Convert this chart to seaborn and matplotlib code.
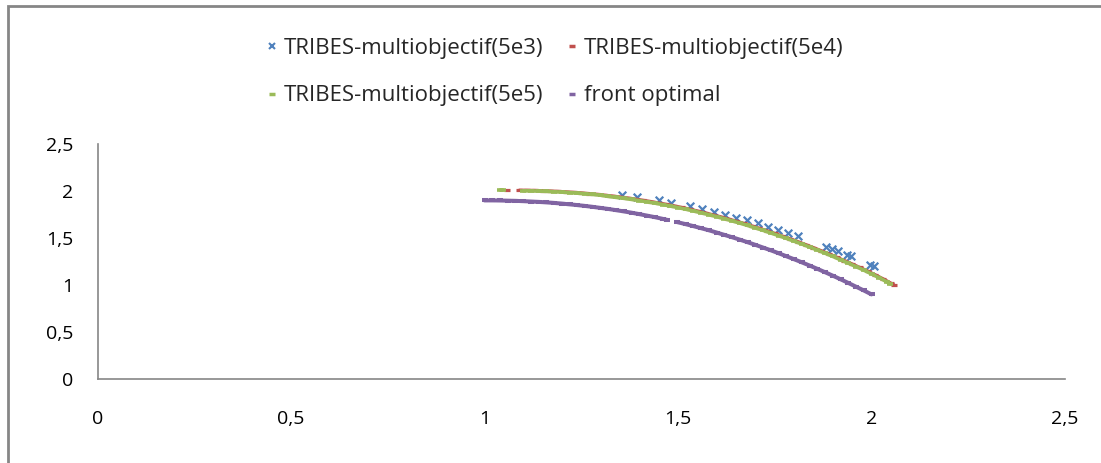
import matplotlib
matplotlib.use("Agg")
import matplotlib.pyplot as plt
from matplotlib.lines import Line2D
from matplotlib.patches import Rectangle
import seaborn as sns

# ---------------- data ----------------
labels = ["TRIBES-multiobjectif(5e3)", "TRIBES-multiobjectif(5e4)",
          "TRIBES-multiobjectif(5e5)", "front optimal"]
colors = ["#4F81BD", "#C0504D", "#9BBB59", "#8064A2"]

x_5e3 = [1.356, 1.394, 1.450, 1.483, 1.530, 1.562, 1.593, 1.622, 1.650, 1.679, 1.708,
         1.733, 1.759, 1.785, 1.811, 1.882, 1.899, 1.913, 1.937, 1.946, 1.996, 2.006]
y_5e3 = [1.957, 1.936, 1.901, 1.876, 1.837, 1.808, 1.780, 1.748, 1.716, 1.687, 1.655,
         1.620, 1.588, 1.552, 1.516, 1.406, 1.388, 1.359, 1.317, 1.306, 1.217, 1.199]

x_5e4 = [1.058, 1.09, 1.11, 1.13, 1.15, 1.17, 1.19, 1.21, 1.23, 1.25, 1.27, 1.29, 1.31,
         1.33, 1.35, 1.37, 1.39, 1.41, 1.43, 1.45, 1.47, 1.49, 1.51, 1.53, 1.55, 1.57,
         1.59, 1.61, 1.63, 1.65, 1.67, 1.69, 1.71, 1.73, 1.75, 1.77, 1.79, 1.81, 1.83,
         1.85, 1.87, 1.89, 1.91, 1.93, 1.95, 1.97, 1.99, 2.01, 2.03, 2.05, 2.058]
y_5e4 = [2.010, 2.009, 2.008, 2.006, 2.003, 2.000, 1.996, 1.991, 1.986, 1.980, 1.973,
         1.965, 1.956, 1.947, 1.937, 1.926, 1.914, 1.901, 1.888, 1.873, 1.858, 1.842,
         1.825, 1.807, 1.788, 1.768, 1.747, 1.726, 1.703, 1.680, 1.656, 1.630, 1.604,
         1.577, 1.549, 1.520, 1.491, 1.461, 1.430, 1.398, 1.365, 1.331, 1.296, 1.260,
         1.224, 1.187, 1.148, 1.108, 1.066, 1.020, 1.002]

x_5e5 = [1.040, 1.048, 1.10, 1.12, 1.14, 1.16, 1.18, 1.20, 1.22, 1.24, 1.26, 1.28, 1.30,
         1.32, 1.34, 1.36, 1.38, 1.40, 1.42, 1.44, 1.46, 1.48, 1.50, 1.52, 1.54, 1.56,
         1.58, 1.60, 1.62, 1.64, 1.66, 1.68, 1.70, 1.72, 1.74, 1.76, 1.78, 1.80, 1.82,
         1.84, 1.86, 1.88, 1.90, 1.92, 1.94, 1.96, 1.98, 2.00, 2.02, 2.04, 2.048]
y_5e5 = [2.008, 2.008, 2.002, 2.001, 1.999, 1.996, 1.992, 1.988, 1.983, 1.977, 1.971,
         1.963, 1.955, 1.942, 1.932, 1.922, 1.910, 1.898, 1.885, 1.871, 1.856, 1.840,
         1.824, 1.806, 1.788, 1.768, 1.748, 1.727, 1.705, 1.682, 1.658, 1.633, 1.607,
         1.581, 1.553, 1.525, 1.496, 1.466, 1.436, 1.404, 1.372, 1.338, 1.304, 1.268,
         1.232, 1.196, 1.158, 1.118, 1.077, 1.033, 1.012]

x_front = [1.00, 1.02, 1.04, 1.06, 1.08, 1.10, 1.12, 1.14, 1.16, 1.18, 1.20, 1.22, 1.24,
           1.26, 1.28, 1.30, 1.32, 1.34, 1.36, 1.38, 1.40, 1.42, 1.44, 1.46, 1.472,
           1.497, 1.52, 1.54, 1.56, 1.58, 1.60, 1.62, 1.64, 1.66, 1.68, 1.70, 1.72, 1.74,
           1.76, 1.78, 1.80, 1.82, 1.84, 1.86, 1.88, 1.90, 1.92, 1.94, 1.96, 1.98, 2.00]
y_front = [1.900, 1.900, 1.899, 1.897, 1.895, 1.892, 1.888, 1.884, 1.879, 1.873, 1.866,
           1.858, 1.850, 1.841, 1.831, 1.820, 1.809, 1.796, 1.783, 1.769, 1.754, 1.738,
           1.722, 1.704, 1.693, 1.670, 1.647, 1.626, 1.604, 1.582, 1.558, 1.533, 1.508,
           1.482, 1.455, 1.427, 1.398, 1.369, 1.338, 1.306, 1.274, 1.241, 1.207, 1.172,
           1.136, 1.099, 1.061, 1.022, 0.982, 0.942, 0.900]

ticks = [0, 0.5, 1, 1.5, 2, 2.5]
tick_labels = ["0", "0,5", "1", "1,5", "2", "2,5"]

# ---------------- figure ----------------
sns.set_theme(style="white")
plt.rcParams["font.family"] = ["Open Sans", "DejaVu Sans"]

W, H = 1101, 463
fig = plt.figure(figsize=(W / 100, H / 100), dpi=100)
ax = fig.add_axes([97.5 / W, (H - 379) / H, (1065 - 97.5) / W, (379 - 144) / H])
grey = "#868686"


def segments(xs, ys, max_gap=0.024):
    """Split a sampled series where consecutive samples are far apart."""
    out, cur = [], [0]
    for i in range(1, len(xs)):
        if xs[i] - xs[i - 1] > max_gap:
            out.append(cur)
            cur = []
        cur.append(i)
    out.append(cur)
    return [([xs[i] for i in s], [ys[i] for i in s]) for s in out]


def draw_dash_series(xs, ys, color, lw, z):
    # short horizontal dash markers (Excel "dash" marker)
    sns.scatterplot(x=xs, y=ys, marker="_", s=18, linewidth=lw, color=color,
                    legend=False, ax=ax, zorder=z)
    # densely sampled markers merge into a band: join samples inside each run
    for sx, sy in segments(xs, ys):
        if len(sx) > 1:
            sns.lineplot(x=sx, y=sy, color=color, linewidth=lw, linestyle="-",
                         dashes=False, sort=False, estimator=None, legend=False,
                         ax=ax, zorder=z)


sns.scatterplot(x=x_5e3, y=y_5e3, marker="x", s=30, linewidth=1.6,
                color=colors[0], legend=False, ax=ax, zorder=3)
draw_dash_series(x_5e4, y_5e4, colors[1], 2.3, 4)
draw_dash_series(x_5e5, y_5e5, colors[2], 2.6, 5)
draw_dash_series(x_front, y_front, colors[3], 2.9, 6)

ax.set_xlim(0, 2.5)
ax.set_ylim(0, 2.5)
ax.set_xticks(ticks)
ax.set_xticklabels(tick_labels)
ax.set_yticks(ticks)
ax.set_yticklabels(tick_labels)
ax.set_xlabel("")
ax.set_ylabel("")
for side in ["top", "right"]:
    ax.spines[side].set_visible(False)
for side in ["left", "bottom"]:
    ax.spines[side].set_color(grey)
    ax.spines[side].set_linewidth(1.2)
ax.tick_params(axis="both", direction="out", length=6.5, width=1.2, color=grey,
               labelsize=14, labelcolor="black")
ax.tick_params(axis="y", pad=11)
ax.tick_params(axis="x", pad=16)
ax.grid(False)


# legend: two rows, ordered so that row 1 = 5e3, 5e4 and row 2 = 5e5, front
def handle(i):
    if i == 0:
        return Line2D([], [], linestyle="", marker="x", markersize=4.5,
                      markeredgewidth=1.5, color=colors[0])
    return Line2D([], [], linestyle="", marker="_", markersize=4,
                  markeredgewidth=2.5, color=colors[i])


order = [0, 2, 1, 3]
fig.legend([handle(i) for i in order], [labels[i] for i in order],
           ncol=2, loc="center", bbox_to_anchor=(0.504, 1 - 72 / H),
           frameon=False, fontsize=16, handlelength=0.5, handletextpad=0.3,
           columnspacing=1.0, labelspacing=1.2)

# chart border (Excel chart area)
fig.patches.append(Rectangle((8 / W, -0.2), 1.2, 1.2 - 6 / H, transform=fig.transFigure,
                             fill=False, edgecolor=grey, linewidth=2.0, zorder=0))

fig.savefig("out.png", dpi=100, facecolor="white")
